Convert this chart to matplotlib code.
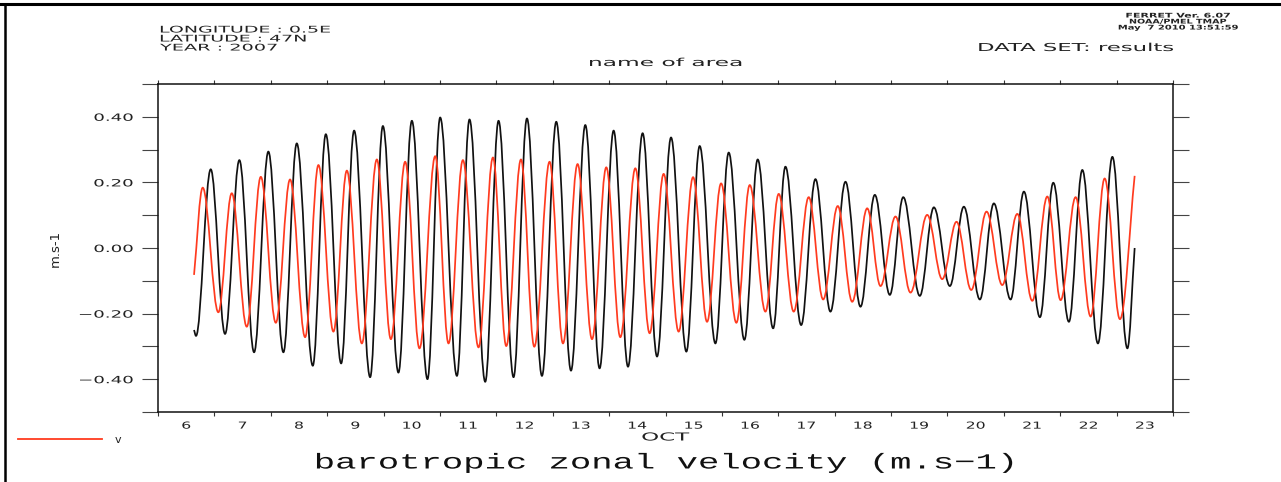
import matplotlib
matplotlib.use("Agg")
import matplotlib.pyplot as plt
from matplotlib.patheffects import AbstractPathEffect
from matplotlib.transforms import Affine2D
from matplotlib.lines import Line2D
from matplotlib.path import Path
from matplotlib.patches import PathPatch

# ---------------- data (day of October 2007, m/s) ----------------
# black series: successive extrema
u_time = [6.639, 6.674, 6.935, 7.189, 7.443, 7.704, 7.957, 8.224, 8.461, 8.745,
          8.976, 9.248, 9.478, 9.762, 9.988, 10.264, 10.502, 10.779, 11.004, 11.301,
          11.524, 11.803, 12.039, 12.305, 12.543, 12.809, 13.063, 13.324, 13.578, 13.831,
          14.080, 14.335, 14.594, 14.850, 15.098, 15.370, 15.606, 15.885, 16.121, 16.399,
          16.635, 16.909, 17.127, 17.406, 17.659, 17.925, 18.192, 18.458, 18.712, 18.978,
          19.216, 19.510, 19.759, 20.043, 20.291, 20.575, 20.823, 21.120, 21.356, 21.640,
          21.877, 22.154, 22.392, 22.669, 22.925, 23.191, 23.320]
u_vals = [-0.250, -0.268, 0.240, -0.262, 0.268, -0.318, 0.294, -0.318, 0.319, -0.359,
          0.347, -0.352, 0.358, -0.394, 0.372, -0.380, 0.388, -0.400, 0.398, -0.390,
          0.392, -0.408, 0.388, -0.394, 0.395, -0.390, 0.385, -0.374, 0.375, -0.367,
          0.358, -0.362, 0.350, -0.331, 0.337, -0.316, 0.311, -0.291, 0.291, -0.280,
          0.270, -0.245, 0.248, -0.235, 0.210, -0.194, 0.202, -0.179, 0.162, -0.143,
          0.155, -0.146, 0.124, -0.116, 0.126, -0.157, 0.136, -0.157, 0.172, -0.211,
          0.199, -0.225, 0.238, -0.291, 0.278, -0.306, 0.000]

# red series "v"
v_time = [6.639, 6.793, 7.070, 7.308, 7.574, 7.823, 8.089, 8.342, 8.609, 8.845,
          9.111, 9.349, 9.615, 9.881, 10.130, 10.383, 10.637, 10.916, 11.152, 11.407,
          11.684, 11.940, 12.176, 12.437, 12.673, 12.944, 13.182, 13.441, 13.697, 13.950,
          14.199, 14.465, 14.719, 14.967, 15.233, 15.489, 15.737, 15.986, 16.257, 16.494,
          16.772, 17.008, 17.274, 17.540, 17.796, 18.055, 18.311, 18.577, 18.813, 19.079,
          19.345, 19.641, 19.907, 20.161, 20.422, 20.694, 20.972, 21.239, 21.505, 21.771,
          22.007, 22.273, 22.540, 22.788, 23.059, 23.320]
v_vals = [-0.082, 0.184, -0.196, 0.167, -0.240, 0.217, -0.228, 0.209, -0.272, 0.253,
          -0.255, 0.236, -0.291, 0.270, -0.278, 0.263, -0.306, 0.280, -0.291, 0.268,
          -0.303, 0.276, -0.299, 0.270, -0.301, 0.263, -0.291, 0.256, -0.278, 0.246,
          -0.272, 0.243, -0.260, 0.226, -0.255, 0.216, -0.225, 0.197, -0.228, 0.192,
          -0.194, 0.165, -0.194, 0.155, -0.157, 0.128, -0.164, 0.121, -0.116, 0.096,
          -0.136, 0.101, -0.095, 0.080, -0.128, 0.111, -0.113, 0.104, -0.161, 0.157,
          -0.159, 0.155, -0.209, 0.212, -0.217, 0.220]

day_ticks = list(range(6, 25))
day_labels = [str(d) for d in range(6, 24)]
y_major = [-0.4, -0.2, 0.0, 0.2, 0.4]
y_major_labels = ["\u22120.40", "\u22120.20", "0.00", "0.20", "0.40"]
y_minor = [-0.5, -0.3, -0.1, 0.1, 0.3, 0.5]

U_COLOR = "#111111"
V_COLOR = "#ff3b1f"
TXT = "#222222"


# ---------------- helpers ----------------
class HStretch(AbstractPathEffect):
    """Stretch text horizontally about its left / centre / right edge."""
    def __init__(self, sx, anchor="left"):
        super().__init__((0.0, 0.0))
        self.sx = sx
        self.anchor = anchor

    def draw_path(self, renderer, gc, tpath, affine, rgbFace=None):
        ext = tpath.get_extents(affine)
        if self.anchor == "left":
            x0 = ext.x0
        elif self.anchor == "right":
            x0 = ext.x1
        else:
            x0 = 0.5 * (ext.x0 + ext.x1)
        aff = affine + Affine2D().translate(-x0, 0).scale(self.sx, 1).translate(x0, 0)
        renderer.draw_path(gc, tpath, aff, rgbFace)


def extrema_curve(ts, vs, k=0.364):
    """Smooth curve through extrema: cubic Bezier with flat tangents at each extremum."""
    verts = [(ts[0], vs[0])]
    codes = [Path.MOVETO]
    n = len(ts)
    for i in range(1, n):
        t0, v0, t1, v1 = ts[i - 1], vs[i - 1], ts[i], vs[i]
        dt = t1 - t0
        c1v = v0 if i > 1 else v0 + k * (v1 - v0)
        c2v = v1 if i < n - 1 else v1 - k * (v1 - v0)
        verts += [(t0 + k * dt, c1v), (t1 - k * dt, c2v), (t1, v1)]
        codes += [Path.CURVE4] * 3
    return Path(verts, codes)


W, H = 1281, 482
fig = plt.figure(figsize=(W / 100, H / 100), dpi=100)
fig.patch.set_facecolor("white")
renderer = fig.canvas.get_renderer()

L, R, T, B = 158, 1173, 84, 412
ax = fig.add_axes([L / W, 1 - B / H, (R - L) / W, (B - T) / H])


def natural_width(s, **kw):
    t = fig.text(0, 0, s, **kw)
    w = t.get_window_extent(renderer).width
    t.remove()
    return w


def ptext(x, y, s, target_w=None, ha="left", **kw):
    t = fig.text(x / W, 1 - y / H, s, ha=ha, va="center", color=kw.pop("color", TXT), **kw)
    if target_w:
        w = t.get_window_extent(renderer).width
        t.set_path_effects([HStretch(target_w / w, ha)])
    return t


# ---------------- data lines ----------------
ax.add_patch(PathPatch(extrema_curve(u_time, u_vals), facecolor="none",
                       edgecolor=U_COLOR, lw=1.25, joinstyle="round"))
ax.add_patch(PathPatch(extrema_curve(v_time, v_vals), facecolor="none",
                       edgecolor=V_COLOR, lw=1.25, joinstyle="round"))
v_handle = Line2D([], [], color=V_COLOR, lw=1.3, label="v")

ax.set_xlim(6, 24)
ax.set_ylim(-0.5, 0.5)

for sp in ax.spines.values():
    sp.set_linewidth(1.1)
    sp.set_color("#111111")

# x axis: day boundaries as ticks, labels at noon
ax.set_xticks(day_ticks)
ax.set_xticks([d + 0.5 for d in range(6, 24)], labels=day_labels, minor=True)
ax.tick_params(axis="x", which="major", direction="out", length=2.9, width=0.8,
               bottom=True, top=True, labelbottom=False, color="#333333")
ax.tick_params(axis="x", which="minor", length=0, labelsize=6.9, pad=6.2,
               labelcolor=TXT, bottom=True, top=False)

# y axis
ax.set_yticks(y_major, labels=y_major_labels)
ax.set_yticks(y_minor, minor=True)
ax.tick_params(axis="y", which="both", direction="out", length=11.5, width=0.8,
               left=True, right=True, color="#444444")
ax.tick_params(axis="y", which="major", labelsize=7.2, pad=6.5, labelcolor=TXT)

sy = 40 / natural_width("0.40", fontsize=7.2)
for tk in ax.yaxis.get_major_ticks():
    tk.label1.set_path_effects([HStretch(sy, "right")])
sxx = 20 / natural_width("10", fontsize=6.9)
for tk in ax.xaxis.get_minor_ticks():
    tk.label1.set_path_effects([HStretch(sxx, "center")])

# axis labels
ax.set_ylabel("m.s-1", fontsize=9.5, color=TXT)
ax.yaxis.set_label_coords((62 - L) / (R - L), 0.5)
ax.set_xlabel("OCT", fontsize=7.9, color=TXT)
ax.xaxis.set_label_coords(0.5, (B - 432.5) / (B - T))
ax.xaxis.label.set_path_effects([HStretch(48 / natural_width("OCT", fontsize=7.9), "center")])

# ---------------- header / footer texts ----------------
ptext(160, 30, "LONGITUDE : 0.5E", 170, fontsize=6.6)
ptext(160, 39, "LATITUDE : 47N", 147, fontsize=6.6)
ptext(160, 48, "YEAR : 2007", 118, fontsize=6.6)
ptext(666, 63, "name of area", 157, ha="center", fontsize=7.9)
ptext(1174, 48, "DATA SET: results", 198, ha="right", fontsize=7.9)
ptext(1178, 16, "FERRET Ver. 6.07", 105, ha="center", fontsize=4.6, fontweight="bold")
ptext(1178, 22, "NOAA/PMEL TMAP", 98, ha="center", fontsize=4.6, fontweight="bold")
ptext(1178, 28, "May  7 2010 13:51:59", 120, ha="center", fontsize=4.6, fontweight="bold")

ptext(315, 463, "barotropic zonal velocity (m.s\u22121)", 702, ha="left",
      fontsize=15.5, family="Liberation Mono", color="#111111")

# legend
leg = fig.legend(handles=[v_handle], loc="center left", bbox_to_anchor=(18 / W, 1 - 440 / H),
                 frameon=False, fontsize=8, handlelength=7.6, handletextpad=1.1,
                 borderpad=0, borderaxespad=0, labelcolor=TXT)

# outer frame (top and left edges)
fig.add_artist(Line2D([0, 1], [1 - 4 / H, 1 - 4 / H], transform=fig.transFigure,
                      color="black", lw=2.2))
fig.add_artist(Line2D([5 / W, 5 / W], [0, 1 - 4 / H], transform=fig.transFigure,
                      color="black", lw=1.8))

fig.savefig("out.png", dpi=100)
